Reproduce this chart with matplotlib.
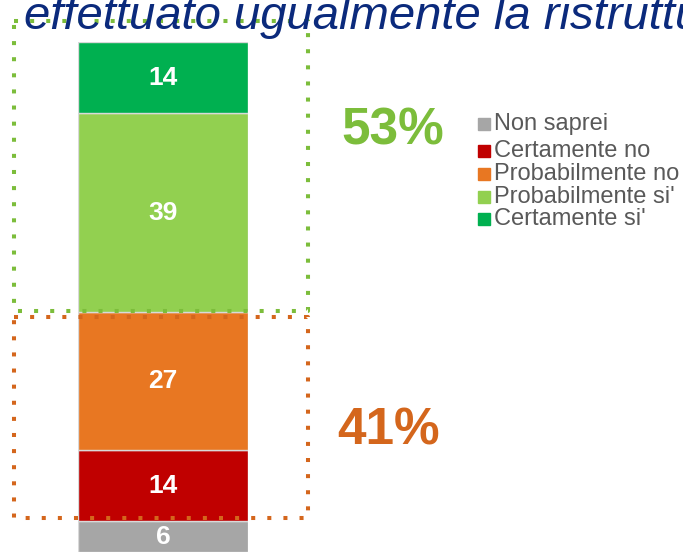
import numpy as np
import matplotlib
matplotlib.use("Agg")
import matplotlib.pyplot as plt
from matplotlib.patches import Rectangle

plt.rcParams['font.family'] = ['Liberation Sans', 'DejaVu Sans']

# data (bottom -> top of the stacked bar)
categories = ["Non saprei", "Certamente no", "Probabilmente no", "Probabilmente si'", "Certamente si'"]
values = [6, 14, 27, 39, 14]
colors = ["#a6a6a6", "#c00000", "#e87722", "#92d050", "#00b050"]
group_labels = ["53%", "41%"]
group_colors = ["#7cbd3b", "#d4661c"]
title = "effettuato ugualmente la ristrutturazione"

W, H = 683, 553
fig = plt.figure(figsize=(W / 100, H / 100), dpi=100)

# bar axes: 0..100 mapped onto pixel rows 552..42
ax = fig.add_axes([78 / W, 1 / H, 170 / W, 510 / H])
ax.set_xlim(-0.5, 0.5)
ax.set_ylim(0, 100)
ax.axis("off")

bottom = 0
for v, c in zip(values, colors):
    ax.bar(0, v, width=1.0, bottom=bottom, color=c, edgecolor="#d9d9d9", linewidth=1.0)
    ax.text(0, bottom + v / 2, str(v), ha="center", va="center", color="white",
            fontsize=19, fontweight="bold")
    bottom += v

# overlay in pixel coordinates for annotations
ov = fig.add_axes([0, 0, 1, 1])
ov.set_xlim(0, W)
ov.set_ylim(H, 0)
ov.axis("off")
ov.patch.set_visible(False)

def dotted_box(x0, y0, x1, y1, color):
    ov.plot([x0, x1, x1, x0, x0], [y0, y0, y1, y1, y0], color=color,
            linewidth=2.9, linestyle=(0, (1, 3)), dash_capstyle="butt")

dotted_box(14, 21, 308, 311, group_colors[0])
dotted_box(14, 317, 308, 518, group_colors[1])

ov.text(341, 131, group_labels[0], color=group_colors[0], fontsize=37,
        fontweight="bold", ha="left", va="center")
ov.text(337, 431, group_labels[1], color=group_colors[1], fontsize=37,
        fontweight="bold", ha="left", va="center")

# legend (top entry = first category)
leg_y = [124, 151, 174, 197, 219]
for yy, lab, c in zip(leg_y, categories, colors):
    ov.add_patch(Rectangle((478, yy - 6), 12, 12, color=c))
    ov.text(494, yy, lab, color="#595959", fontsize=17, ha="left", va="center")

ov.text(24, 29, title, color="#0b2a7c", fontsize=34, style="italic",
        ha="left", va="baseline")

fig.savefig("out.png", dpi=100)
